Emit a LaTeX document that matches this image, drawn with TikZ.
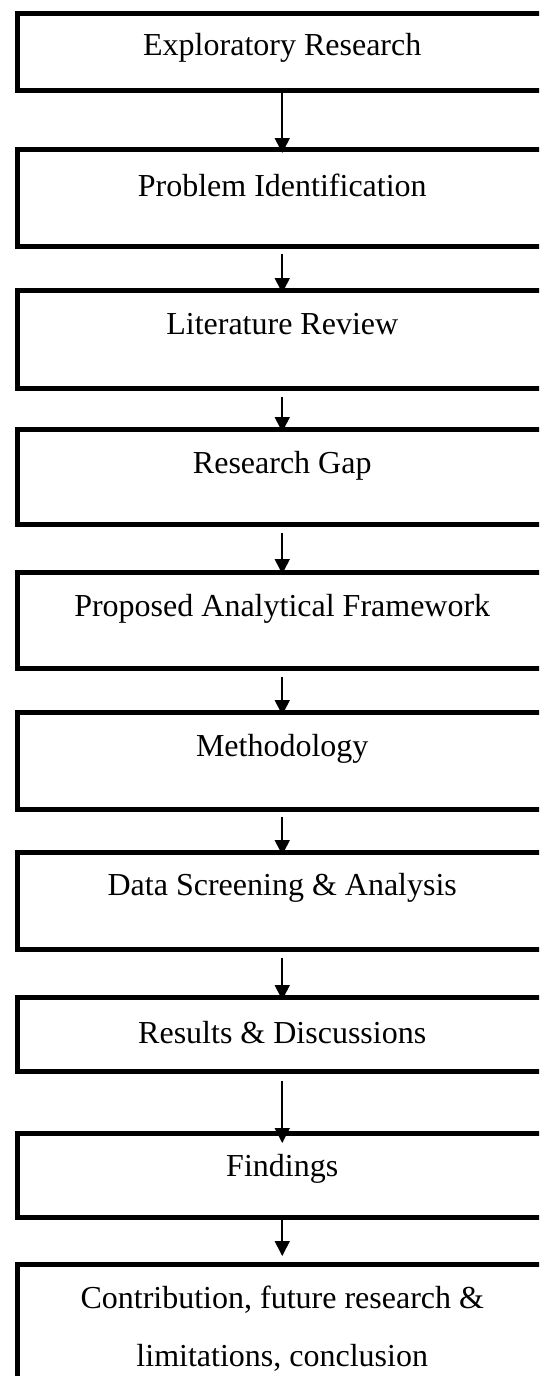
\documentclass[tikz,border=0pt]{standalone}
\usepackage{fontspec}
\setmainfont{Liberation Serif}
\usepackage{tikz}
\usetikzlibrary{arrows.meta}
\usetikzlibrary{positioning}
\tikzstyle{stage} = [rectangle, draw=black, line width=4.5pt, minimum width=530pt, inner sep=0pt, anchor=north west]
\tikzstyle{lbl} = [font=\fontsize{32}{58}\selectfont, align=center, anchor=base, inner sep=0pt]
\tikzstyle{arrow} = [line width=1.6pt,-{Triangle[width=15pt,length=15pt]}]

\begin{document}
\begin{tikzpicture}[x=1pt,y=1pt]
                    \useasboundingbox (0,0) rectangle (539,-1376);
                    \clip (0,0) rectangle (539,-1376);
                    % boxes
                    \node [stage, minimum height=77pt] (b1) at (15,-11) {};
                    \node [stage, minimum height=97pt] (b2) at (15,-147) {};
                    \node [stage, minimum height=98pt] (b3) at (15,-288) {};
                    \node [stage, minimum height=95pt] (b4) at (15,-427) {};
                    \node [stage, minimum height=96pt] (b5) at (15,-570) {};
                    \node [stage, minimum height=97pt] (b6) at (15,-710) {};
                    \node [stage, minimum height=97pt] (b7) at (15,-850) {};
                    \node [stage, minimum height=74pt] (b8) at (15,-995) {};
                    \node [stage, minimum height=84pt] (b9) at (15,-1131) {};
                    \node [stage, minimum height=160pt] (b10) at (15,-1262) {};
                    % labels
                    \node [lbl] (t1) at ([yshift=-44pt]b1.north) {Exploratory Research};
                    \node [lbl] (t2) at ([yshift=-49pt]b2.north) {Problem Identification};
                    \node [lbl] (t3) at ([yshift=-46pt]b3.north) {Literature Review};
                    \node [lbl] (t4) at ([yshift=-46pt]b4.north) {Research Gap};
                    \node [lbl] (t5) at ([yshift=-46pt]b5.north) {Proposed Analytical Framework};
                    \node [lbl] (t6) at ([yshift=-46pt]b6.north) {Methodology};
                    \node [lbl] (t7) at ([yshift=-45pt]b7.north) {Data Screening \& Analysis};
                    \node [lbl] (t8) at ([yshift=-48pt]b8.north) {Results \& Discussions};
                    \node [lbl] (t9) at ([yshift=-45pt]b9.north) {Findings};
                    \node [lbl, anchor=north] (t10) at ([yshift=-24pt]b10.north) {Contribution, future research \&\\limitations, conclusion};
                    % arrows
                    \draw [arrow] (b1.south) -- ([yshift=-6pt]b2.north);
                    \draw [arrow] ([yshift=-5pt]b2.south) -- ([yshift=-5pt]b3.north);
                    \draw [arrow] ([yshift=-6pt]b3.south) -- ([yshift=-5pt]b4.north);
                    \draw [arrow] ([yshift=-6pt]b4.south) -- ([yshift=-4pt]b5.north);
                    \draw [arrow] ([yshift=-6pt]b5.south) -- ([yshift=-5pt]b6.north);
                    \draw [arrow] ([yshift=-5pt]b6.south) -- ([yshift=-5pt]b7.north);
                    \draw [arrow] ([yshift=-6pt]b7.south) -- ([yshift=-5pt]b8.north);
                    \draw [arrow] ([yshift=-7pt]b8.south) -- ([yshift=-12pt]b9.north);
                    \draw [arrow] ([yshift=5pt]b9.south) -- ([yshift=6pt]b10.north);
                \end{tikzpicture}
\end{document}
